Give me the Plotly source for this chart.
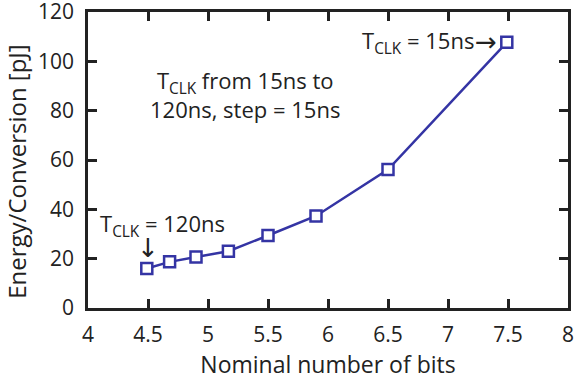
import plotly.graph_objects as go

# Energy per conversion vs. nominal number of bits for T_CLK = 120ns ... 15ns
enob = [4.49, 4.68, 4.90, 5.17, 5.50, 5.90, 6.50, 7.49]
energy_pj = [16.0, 18.7, 20.7, 23.0, 29.4, 37.3, 56.1, 107.7]

x_ticks = [4, 4.5, 5, 5.5, 6, 6.5, 7, 7.5, 8]
y_ticks = [0, 20, 40, 60, 80, 100, 120]

FONT = "Open Sans"
ARROW_FONT = "DejaVu Sans"
INK = "#222222"
LINE = "#3434a4"

fig = go.Figure()
fig.add_trace(go.Scatter(
    x=enob, y=energy_pj, mode="lines+markers",
    line=dict(color=LINE, width=2.5),
    marker=dict(symbol="square", size=11, color="white",
                line=dict(color=LINE, width=2.5)),
    showlegend=False,
))

axis_common = dict(
    showline=True, linecolor=INK, linewidth=2.5, mirror="ticks",
    ticks="inside", ticklen=9, tickwidth=2.5, tickcolor=INK,
    showgrid=False, zeroline=False,
    tickfont=dict(family=FONT, size=21, color=INK),
    ticklabeloverflow="allow",
)

fig.update_xaxes(
    range=[4, 8], tickvals=x_ticks, ticktext=[f"{v:g}" for v in x_ticks],
    title=dict(text="Nominal number of bits", font=dict(family=FONT, size=23, color=INK), standoff=9),
    ticklabelstandoff=6, automargin="bottom",
    **axis_common,
)
fig.update_yaxes(
    range=[0, 120], tickvals=y_ticks,
    ticklabelstandoff=7, automargin=False,
    **axis_common,
)

ann_font = dict(family=FONT, size=22, color=INK)
arrow_font = dict(family=ARROW_FONT, size=26, color=INK)

# vertical axis label, placed slightly below the axis centre
fig.add_annotation(
    x=-0.148, y=0.46, xref="paper", yref="paper", showarrow=False,
    xanchor="center", yanchor="middle",
    text="Energy/Conversion [pJ]", textangle=-90,
    font=dict(family=FONT, size=24, color=INK),
)
fig.add_annotation(
    x=5.31, y=86.5, xref="x", yref="y", showarrow=False,
    text="T<sub>CLK</sub> from 15ns to<br>120ns, step = 15ns",
    font=ann_font, align="center",
)
fig.add_annotation(
    x=4.62, y=33.5, xref="x", yref="y", showarrow=False,
    text="T<sub>CLK</sub> = 120ns", font=ann_font,
)
fig.add_annotation(
    x=4.5, y=17.3, xref="x", yref="y", showarrow=False, yanchor="bottom",
    text="↓", font=arrow_font,
)
fig.add_annotation(
    x=7.23, y=107.7, xref="x", yref="y", showarrow=False, xanchor="right",
    text="T<sub>CLK</sub> = 15ns", font=ann_font,
)
fig.add_annotation(
    x=7.425, y=107.9, xref="x", yref="y", showarrow=False, xanchor="right",
    text="→", font=arrow_font,
)

fig.update_layout(
    width=574, height=384,
    margin=dict(l=88, r=6, t=12, b=76),
    paper_bgcolor="white", plot_bgcolor="white",
    font=dict(family=FONT, color=INK),
)

fig.write_html("out.html")
